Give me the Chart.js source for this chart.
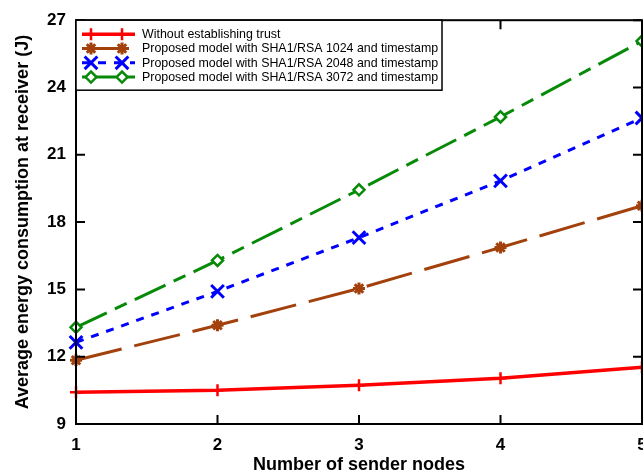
<!DOCTYPE html>
<html><head><meta charset="utf-8">
<script src="https://cdn.jsdelivr.net/npm/chart.js@4.4.0/dist/chart.umd.min.js"></script>
<style>
html,body{margin:0;padding:0;overflow:hidden;background:#fff;width:643px;height:474px}
#wrap{width:680px;height:474px}
</style></head>
<body><div id="wrap"><canvas id="c" width="680" height="474"></canvas></div>
<script>
const nodes = [1, 2, 3, 4, 5];
const noTrust = [10.42, 10.50, 10.73, 11.04, 11.53];
const rsa1024 = [11.84, 13.40, 15.04, 16.87, 18.73];
const rsa2048 = [12.64, 14.91, 17.31, 19.84, 22.64];
const rsa3072 = [13.31, 16.29, 19.44, 22.69, 26.07];
const seriesLabels = [
  'Without establishing trust',
  'Proposed model with SHA1/RSA 1024 and timestamp',
  'Proposed model with SHA1/RSA 2048 and timestamp',
  'Proposed model with SHA1/RSA 3072 and timestamp'
];
const xTicks = [1, 2, 3, 4, 5];
const yTicks = [9, 12, 15, 18, 21, 24, 27];
const xTitle = 'Number of sender nodes';
const yTitle = 'Average energy consumption at receiver (J)';

Chart.defaults.font.family = '"Liberation Sans", Arial, sans-serif';
Chart.defaults.color = '#000';

const pts = arr => nodes.map((n, i) => ({x: n, y: arr[i]}));

const frame = {
  id: 'frame',
  afterDatasetsDraw(chart) {
    const {ctx, chartArea: a, scales: {x, y}} = chart;
    ctx.save();
    ctx.strokeStyle = '#000';
    ctx.lineWidth = 2;
    ctx.setLineDash([]);
    ctx.strokeRect(a.left, a.top, a.right - a.left, a.bottom - a.top);
    const L = 9;
    ctx.beginPath();
    x.ticks.forEach(t => {
      const px = x.getPixelForValue(t.value);
      ctx.moveTo(px, a.bottom); ctx.lineTo(px, a.bottom - L);
      ctx.moveTo(px, a.top); ctx.lineTo(px, a.top + L);
    });
    y.ticks.forEach(t => {
      const py = y.getPixelForValue(t.value);
      ctx.moveTo(a.left, py); ctx.lineTo(a.left + L, py);
      ctx.moveTo(a.right, py); ctx.lineTo(a.right - L, py);
    });
    ctx.stroke();
    ctx.restore();
  }
};

const legendBox = {
  id: 'legendBox',
  afterDraw(chart) {
    const {ctx, chartArea: a} = chart;
    const x0 = a.left, y0 = a.top, w = 366, h = 70;
    ctx.save();
    ctx.fillStyle = '#fff';
    ctx.fillRect(x0, y0, w, h);
    ctx.strokeStyle = '#000';
    ctx.lineWidth = 1.5;
    ctx.strokeRect(x0, y0, w, h);
    chart.data.datasets.forEach((ds, i) => {
      const cy = y0 + 14 + i * 14.3;
      ctx.strokeStyle = ds.borderColor;
      ctx.lineWidth = ds.borderWidth;
      ctx.setLineDash(ds.borderDash || []);
      ctx.beginPath();
      ctx.moveTo(x0 + 6, cy); ctx.lineTo(x0 + 59, cy);
      ctx.stroke();
      ctx.setLineDash([]);
      [x0 + 15, x0 + 46].forEach(px => {
        ctx.fillStyle = ds.pointBackgroundColor;
        ctx.strokeStyle = ds.pointBorderColor;
        ctx.lineWidth = ds.pointBorderWidth;
        Chart.helpers.drawPoint(ctx, {pointStyle: ds.pointStyle, radius: ds.pointRadius, borderWidth: ds.pointBorderWidth, rotation: 0}, px, cy);
      });
      ctx.fillStyle = '#000';
      ctx.font = '12.4px "Liberation Sans", Arial, sans-serif';
      ctx.textBaseline = 'middle';
      ctx.textAlign = 'left';
      ctx.fillText(ds.label, x0 + 66, cy + 0.5);
    });
    ctx.restore();
  }
};

const mk = (label, data, color, dash, style, r, bw, bg) => ({
  label, data: pts(data), borderColor: color, borderWidth: 3, borderDash: dash,
  pointStyle: style, pointRadius: r, pointHoverRadius: r, pointBorderColor: color,
  pointBackgroundColor: bg || color, pointBorderWidth: bw, tension: 0, clip: false, fill: false
});

const datasets = [
  mk(seriesLabels[0], noTrust, '#ff0000', [], 'cross', 6, 2.5),
  mk(seriesLabels[1], rsa1024, '#a3410d', [47, 13], 'star', 6, 3),
  mk(seriesLabels[2], rsa2048, '#0000ff', [8, 8], 'crossRot', 9, 3),
  mk(seriesLabels[3], rsa3072, '#078a07', [34, 9, 13, 9], 'rectRot', 5.5, 2.5, '#ffffff')
];
datasets[0].borderWidth = 3.5;

new Chart(document.getElementById('c'), {
  type: 'line',
  data: {datasets},
  options: {
    responsive: false,
    animation: false,
    devicePixelRatio: 1,
    layout: {padding: {left: 0, top: 19, right: 38, bottom: 0}},
    plugins: {legend: {display: false}, tooltip: {enabled: false}},
    scales: {
      x: {
        type: 'linear', min: 1, max: 5,
        afterBuildTicks: s => { s.ticks = xTicks.map(v => ({value: v})); },
        afterFit: s => { s.height = 50; },
        grid: {display: false, drawTicks: false},
        border: {display: false},
        ticks: {font: {size: 17, weight: 'bold'}, color: '#000', padding: 11, maxRotation: 0, callback: v => String(v)},
        title: {display: true, text: xTitle, font: {size: 18, weight: 'bold'}, color: '#000', padding: {top: 0, bottom: -2}}
      },
      y: {
        type: 'linear', min: 9, max: 27,
        afterBuildTicks: s => { s.ticks = yTicks.map(v => ({value: v})); },
        afterFit: s => { s.width = 76; },
        grid: {display: false, drawTicks: false},
        border: {display: false},
        ticks: {font: {size: 17, weight: 'bold'}, color: '#000', padding: 10, callback: v => String(v)},
        title: {display: true, text: yTitle, font: {size: 18, weight: 'bold'}, color: '#000', padding: {top: 12, bottom: 0}}
      }
    }
  },
  plugins: [frame, legendBox]
});
</script>
</body></html>
